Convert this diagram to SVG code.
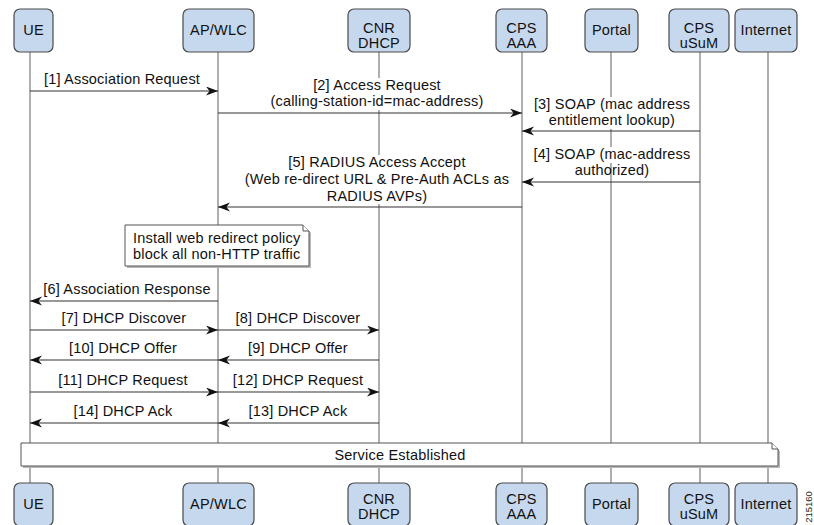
<svg xmlns="http://www.w3.org/2000/svg" width="814" height="525" viewBox="0 0 814 525">
<style>
  .t{font-family:"Liberation Sans",Arial,Helvetica,sans-serif;font-size:14.5px;letter-spacing:0.2px;fill:#111}
  .c{text-anchor:middle}
  .box{fill:#c6d8ee;stroke:#4a4a4a;stroke-width:1.2}
  .life{stroke:#7a7a7a;stroke-width:1.2;fill:none}
  .msg{stroke:#333;stroke-width:1.1;fill:none;marker-end:url(#ah)}
  .bg{fill:#fff}
  .note{fill:#fff;stroke:#555;stroke-width:1}
  .shadow{fill:#b8b8b8}
</style>
<defs>
  <marker id="ah" markerWidth="13" markerHeight="10" refX="12" refY="4.5" orient="auto" markerUnits="userSpaceOnUse">
    <path d="M0,0 L12,4.5 L0,9 L3.5,4.5 Z" fill="#111"/>
  </marker>
</defs>
<rect width="814" height="525" fill="#fff"/>

<g id="lifelines">
  <line class="life" x1="30" y1="52" x2="30" y2="483"/>
  <line class="life" x1="218" y1="52" x2="218" y2="483"/>
  <line class="life" x1="379" y1="52" x2="379" y2="483"/>
  <line class="life" x1="522" y1="52" x2="522" y2="483"/>
  <line class="life" x1="611" y1="52" x2="611" y2="483"/>
  <line class="life" x1="700" y1="52" x2="700" y2="483"/>
  <line class="life" x1="768" y1="52" x2="768" y2="483"/>
</g>

<g id="top-UE"><rect class="box" x="14" y="9" width="39" height="43" rx="6"/><text class="t c" x="33.5" y="35">UE</text></g>
<g id="top-APWLC"><rect class="box" x="183" y="9" width="71" height="43" rx="6"/><text class="t c" x="218.5" y="35">AP/WLC</text></g>
<g id="top-CNR"><rect class="box" x="348" y="9" width="62" height="43" rx="6"/><text class="t c" x="379" y="33">CNR</text><text class="t c" x="379" y="48">DHCP</text></g>
<g id="top-AAA"><rect class="box" x="496" y="9" width="51" height="43" rx="6"/><text class="t c" x="521.5" y="33">CPS</text><text class="t c" x="521.5" y="48">AAA</text></g>
<g id="top-Portal"><rect class="box" x="585" y="9" width="53" height="43" rx="6"/><text class="t c" x="611.5" y="35">Portal</text></g>
<g id="top-uSuM"><rect class="box" x="669" y="9" width="60" height="43" rx="6"/><text class="t c" x="699" y="33">CPS</text><text class="t c" x="699" y="48">uSuM</text></g>
<g id="top-Internet"><rect class="box" x="735" y="9" width="62" height="43" rx="6"/><text class="t c" x="766" y="35">Internet</text></g>

<g id="connectors">
  <g id="m1"><line class="msg" x1="30" y1="91" x2="218" y2="91"/><text class="t c" x="122" y="84">[1] Association Request</text></g>
  <g id="m2"><rect class="bg" x="268" y="78" width="218" height="32"/><line class="msg" x1="218" y1="113" x2="522" y2="113"/><text class="t c" x="377" y="90">[2] Access Request</text><text class="t c" x="377" y="106">(calling-station-id=mac-address)</text></g>
  <g id="m3"><rect class="bg" x="531" y="97" width="162" height="32"/><line class="msg" x1="700" y1="131" x2="522" y2="131"/><text class="t c" x="612" y="109">[3] SOAP (mac address</text><text class="t c" x="612" y="125">entitlement lookup)</text></g>
  <g id="m4"><rect class="bg" x="530" y="147" width="164" height="16"/><line class="msg" x1="700" y1="182" x2="522" y2="182"/><text class="t c" x="612" y="159">[4] SOAP (mac-address</text><text class="t c" x="612" y="175">authorized)</text></g>
  <g id="m5"><rect class="bg" x="242" y="155" width="270" height="49"/><line class="msg" x1="522" y1="207" x2="218" y2="207"/><text class="t c" x="377" y="167">[5] RADIUS Access Accept</text><text class="t c" x="377" y="184">(Web re-direct URL &amp; Pre-Auth ACLs as</text><text class="t c" x="377" y="201">RADIUS AVPs)</text></g>
  <g id="m6"><line class="msg" x1="218" y1="301" x2="30" y2="301"/><text class="t c" x="127" y="294">[6] Association Response</text></g>
  <g id="m7"><line class="msg" x1="30" y1="330" x2="218" y2="330"/><text class="t c" x="124" y="323">[7] DHCP Discover</text></g>
  <g id="m8"><line class="msg" x1="218" y1="330" x2="379" y2="330"/><text class="t c" x="298" y="323">[8] DHCP Discover</text></g>
  <g id="m9"><line class="msg" x1="379" y1="360" x2="218" y2="360"/><text class="t c" x="298" y="353">[9] DHCP Offer</text></g>
  <g id="m10"><line class="msg" x1="218" y1="360" x2="30" y2="360"/><text class="t c" x="123" y="353">[10] DHCP Offer</text></g>
  <g id="m11"><line class="msg" x1="30" y1="392" x2="218" y2="392"/><text class="t c" x="123" y="385">[11] DHCP Request</text></g>
  <g id="m12"><line class="msg" x1="218" y1="392" x2="379" y2="392"/><text class="t c" x="298" y="385">[12] DHCP Request</text></g>
  <g id="m13"><line class="msg" x1="379" y1="423" x2="218" y2="423"/><text class="t c" x="298" y="416">[13] DHCP Ack</text></g>
  <g id="m14"><line class="msg" x1="218" y1="423" x2="30" y2="423"/><text class="t c" x="123" y="416">[14] DHCP Ack</text></g>
</g>

<g id="note-policy">
  <path class="shadow" d="M127,227 H305 L311,233 V268 H127 Z"/>
  <path class="note" d="M125,225 H303 L309,231 V266 H125 Z"/>
  <path class="note" d="M303,225 V231 H309"/>
  <text class="t" x="133" y="243">Install web redirect policy</text>
  <text class="t" x="133" y="259">block all non-HTTP traffic</text>
</g>

<g id="service-established">
  <path class="shadow" d="M23,445 H774 L780,451 V468 H23 Z"/>
  <path class="note" d="M21,443 H772 L778,449 V466 H21 Z"/>
  <path class="note" d="M772,443 V449 H778"/>
  <text class="t c" x="400" y="460">Service Established</text>
</g>

<g id="bot-UE"><rect class="box" x="14" y="483" width="39" height="43" rx="6"/><text class="t c" x="33.5" y="509">UE</text></g>
<g id="bot-APWLC"><rect class="box" x="183" y="483" width="71" height="43" rx="6"/><text class="t c" x="218.5" y="509">AP/WLC</text></g>
<g id="bot-CNR"><rect class="box" x="348" y="483" width="62" height="43" rx="6"/><text class="t c" x="379" y="504">CNR</text><text class="t c" x="379" y="519">DHCP</text></g>
<g id="bot-AAA"><rect class="box" x="496" y="483" width="51" height="43" rx="6"/><text class="t c" x="521.5" y="504">CPS</text><text class="t c" x="521.5" y="519">AAA</text></g>
<g id="bot-Portal"><rect class="box" x="585" y="483" width="53" height="43" rx="6"/><text class="t c" x="611.5" y="509">Portal</text></g>
<g id="bot-uSuM"><rect class="box" x="669" y="483" width="60" height="43" rx="6"/><text class="t c" x="699" y="504">CPS</text><text class="t c" x="699" y="519">uSuM</text></g>
<g id="bot-Internet"><rect class="box" x="735" y="483" width="62" height="43" rx="6"/><text class="t c" x="766" y="509">Internet</text></g>

<text transform="translate(812,507) rotate(-90)" style="font-family:'Liberation Sans',Arial,sans-serif;font-size:9.5px;fill:#222;text-anchor:middle">215160</text>
</svg>
